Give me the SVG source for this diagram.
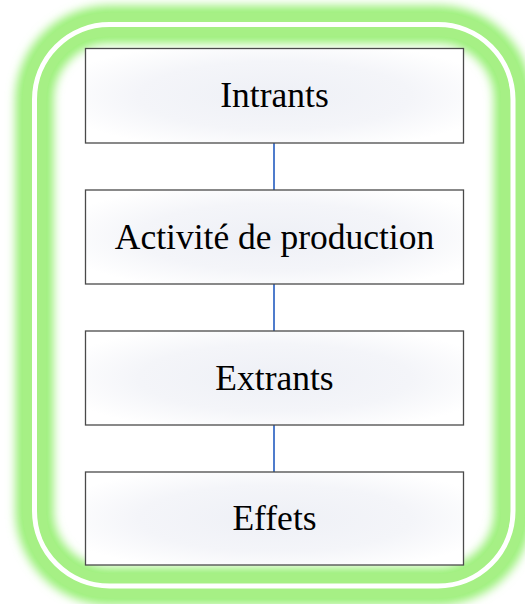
<svg xmlns="http://www.w3.org/2000/svg" width="525" height="604" viewBox="0 0 525 604">
<style>
.box{fill:url(#bg);stroke:#4a4a4a;stroke-width:1.3}
.lbl{font-family:"Liberation Serif","Times New Roman",serif;font-size:35.5px;fill:#000;text-anchor:middle}
.conn{stroke:#4f7ccc;stroke-width:2;fill:none}
</style>
<defs>
<radialGradient id="bg" cx="0.5" cy="0.5" r="0.6">
<stop offset="0" stop-color="#eef0f6"/>
<stop offset="0.6" stop-color="#f4f5f9"/>
<stop offset="1" stop-color="#ffffff"/>
</radialGradient>
<filter id="blur" x="-10%" y="-10%" width="120%" height="120%">
<feGaussianBlur stdDeviation="5"/>
</filter>
</defs>
<g id="frame">
<rect x="34.5" y="24.5" width="478.5" height="561.5" rx="75" ry="75" fill="none" stroke="#9cf07a" stroke-width="38" filter="url(#blur)"/>
<rect x="34.5" y="24.5" width="478.5" height="561.5" rx="75" ry="75" fill="none" stroke="#a6f085" stroke-width="24"/>
<rect x="34.5" y="24.5" width="478.5" height="561.5" rx="75" ry="75" fill="none" stroke="#ffffff" stroke-width="5"/>
</g>
<g id="connectors">
<line class="conn" x1="274" y1="143" x2="274" y2="190"/>
<line class="conn" x1="274" y1="284" x2="274" y2="331"/>
<line class="conn" x1="274" y1="425" x2="274" y2="472"/>
</g>
<g id="intrants">
<rect class="box" x="85.5" y="48.5" width="378" height="94.5"/>
<text class="lbl" x="274.5" y="107">Intrants</text>
</g>
<g id="activite">
<rect class="box" x="85.5" y="190" width="378" height="94"/>
<text class="lbl" x="274.5" y="248.5">Activité de production</text>
</g>
<g id="extrants">
<rect class="box" x="85.5" y="331" width="378" height="94"/>
<text class="lbl" x="274.5" y="389.5">Extrants</text>
</g>
<g id="effets">
<rect class="box" x="85.5" y="472" width="378" height="93"/>
<text class="lbl" x="274.5" y="530">Effets</text>
</g>
</svg>
